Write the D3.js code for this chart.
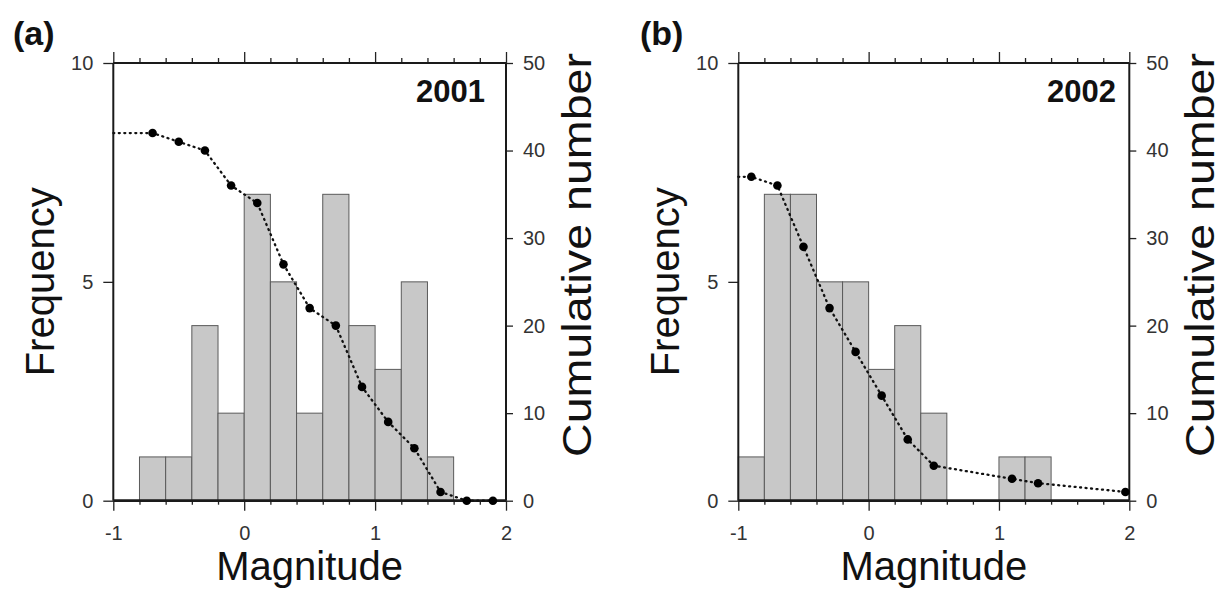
<!DOCTYPE html>
<html>
<head>
<meta charset="utf-8">
<script src="https://cdn.jsdelivr.net/npm/d3@7"></script>
<style>
  html, body { margin: 0; padding: 0; background: #fff; }
  svg { display: block; font-family: "Liberation Sans", Arial, Helvetica, sans-serif; }
</style>
</head>
<body>
<svg id="chart" width="1221" height="589"></svg>
<script>
// ---------------- DATA ----------------
const xTicks = [-1, 0, 1, 2];
const freqTicks = [0, 5, 10];
const cumTicks = [0, 10, 20, 30, 40, 50];
const binWidth = 0.2;

// Panel (a) 2001
const binStartA = [-0.8, -0.6, -0.4, -0.2, 0.0, 0.2, 0.4, 0.6, 0.8, 1.0, 1.2, 1.4];
const freqA     = [1, 1, 4, 2, 7, 5, 2, 7, 4, 3, 5, 1];
const cumXA     = [-0.7, -0.5, -0.3, -0.1, 0.1, 0.3, 0.5, 0.7, 0.9, 1.1, 1.3, 1.5, 1.7, 1.9];
const cumA      = [42, 41, 40, 36, 34, 27, 22, 20, 13, 9, 6, 1, 0, 0];

// Panel (b) 2002
const binStartB = [-1.0, -0.8, -0.6, -0.4, -0.2, 0.0, 0.2, 0.4, 1.0, 1.2];
const freqB     = [1, 7, 7, 5, 5, 3, 4, 2, 1, 1];
const cumXB     = [-0.9, -0.7, -0.5, -0.3, -0.1, 0.1, 0.3, 0.5, 1.1, 1.3, 1.97];
const cumB      = [37, 36, 29, 22, 17, 12, 7, 4, 2.5, 2, 1];

const panelLabels = ["(a)", "(b)"];
const yearLabels = ["2001", "2002"];
const xTitle = "Magnitude";
const yTitle = "Frequency";
const y2Title = "Cumulative number";

// ---------------- LAYOUT ----------------
const svg = d3.select("#chart");
const plotTop = 63, plotBottom = 500.7;
const panels = [
  { left: 113.3, right: 506, bins: binStartA, freq: freqA, cx: cumXA, cy: cumA,
    label: panelLabels[0], labelX: 13, year: yearLabels[0], yearX: 485 },
  { left: 738.3, right: 1129.3, bins: binStartB, freq: freqB, cx: cumXB, cy: cumB,
    label: panelLabels[1], labelX: 640, year: yearLabels[1], yearX: 1116 }
];

function minorTicks() {
  const t = [];
  for (let i = -5; i <= 10; i++) t.push(i * 0.2);
  return t.filter(v => Math.abs(v - Math.round(v)) > 1e-6);
}
const fmt = d => String(d);

panels.forEach(p => {
  const g = svg.append("g");
  const x = d3.scaleLinear().domain([-1, 2]).range([p.left, p.right]);
  const yF = d3.scaleLinear().domain([0, 10]).range([plotBottom, plotTop]);
  const yC = d3.scaleLinear().domain([0, 50]).range([plotBottom, plotTop]);

  // Bars
  g.append("g").selectAll("rect")
    .data(p.bins.map((b, i) => ({ x0: b, x1: b + binWidth, v: p.freq[i] })))
    .join("rect")
    .attr("x", d => x(d.x0))
    .attr("width", d => x(d.x1) - x(d.x0))
    .attr("y", d => yF(d.v))
    .attr("height", d => yF(0) - yF(d.v))
    .attr("fill", "#c8c8c8")
    .attr("stroke", "#5a5a5a")
    .attr("stroke-width", 1);

  const styleAxis = (sel) => {
    sel.select(".domain").remove();
    sel.selectAll("line").attr("stroke", "#222").attr("stroke-width", 1.3);
    sel.selectAll("text").attr("fill", "#333").style("font-size", "20px")
      .style("font-family", '"Liberation Sans", Arial, Helvetica, sans-serif');
  };

  g.append("g").attr("transform", `translate(0,${plotBottom})`)
    .call(d3.axisBottom(x).tickValues(xTicks).tickSize(10).tickPadding(15).tickFormat(fmt))
    .call(styleAxis);
  g.append("g").attr("transform", `translate(0,${plotBottom})`)
    .call(d3.axisBottom(x).tickValues(minorTicks()).tickSize(4).tickFormat(""))
    .call(styleAxis);
  g.append("g").attr("transform", `translate(0,${plotTop})`)
    .call(d3.axisTop(x).tickValues(xTicks).tickSize(11).tickFormat(""))
    .call(styleAxis);
  g.append("g").attr("transform", `translate(0,${plotTop})`)
    .call(d3.axisTop(x).tickValues(minorTicks()).tickSize(5).tickFormat(""))
    .call(styleAxis);
  g.append("g").attr("transform", `translate(${p.left},0)`)
    .call(d3.axisLeft(yF).tickValues(freqTicks).tickSize(10).tickPadding(10).tickFormat(fmt))
    .call(styleAxis);
  g.append("g").attr("transform", `translate(${p.right},0)`)
    .call(d3.axisRight(yC).tickValues(cumTicks).tickSize(7).tickPadding(10).tickFormat(fmt))
    .call(styleAxis);

  // Frame
  g.append("line").attr("x1", p.left).attr("x2", p.right).attr("y1", plotTop).attr("y2", plotTop)
    .attr("stroke", "#1a1a1a").attr("stroke-width", 2);
  g.append("line").attr("x1", p.left).attr("x2", p.left).attr("y1", plotTop).attr("y2", plotBottom)
    .attr("stroke", "#1a1a1a").attr("stroke-width", 2);
  g.append("line").attr("x1", p.right).attr("x2", p.right).attr("y1", plotTop).attr("y2", plotBottom)
    .attr("stroke", "#1a1a1a").attr("stroke-width", 2);
  g.append("line").attr("x1", p.left).attr("x2", p.right).attr("y1", plotBottom).attr("y2", plotBottom)
    .attr("stroke", "#1a1a1a").attr("stroke-width", 2.8);

  // Cumulative line (extended flat to left frame edge)
  const pts = p.cx.map((v, i) => ({ x: v, y: p.cy[i] }));
  const linePts = [{ x: x.domain()[0], y: p.cy[0] }].concat(pts);
  const line = d3.line().x(d => x(d.x)).y(d => yC(d.y));
  g.append("path").datum(linePts)
    .attr("d", line)
    .attr("fill", "none")
    .attr("stroke", "#111")
    .attr("stroke-width", 2.3)
    .attr("stroke-linecap", "round")
    .attr("stroke-dasharray", "1,4.5");
  g.append("g").selectAll("circle").data(pts).join("circle")
    .attr("cx", d => x(d.x)).attr("cy", d => yC(d.y)).attr("r", 4.3)
    .attr("fill", "#000");

  // Texts
  g.append("text").text(p.label)
    .attr("x", p.labelX).attr("y", 45)
    .style("font-size", "34px").style("font-weight", "bold").attr("fill", "#111");
  g.append("text").text(p.year)
    .attr("x", p.yearX).attr("y", 101.5).attr("text-anchor", "end")
    .style("font-size", "31px").style("font-weight", "bold").attr("fill", "#111");
  const cxMid = (p.left + p.right) / 2;
  g.append("text").text(xTitle)
    .attr("x", cxMid).attr("y", 580).attr("text-anchor", "middle")
    .style("font-size", "40px").attr("fill", "#111");
  g.append("text").text(yTitle)
    .attr("transform", `translate(${p.left - 59},${(plotTop + plotBottom) / 2}) rotate(-90)`)
    .attr("text-anchor", "middle")
    .style("font-size", "40px").attr("fill", "#111");
  g.append("text").text(y2Title)
    .attr("transform", `translate(${p.right + 85},255) rotate(-90)`)
    .attr("text-anchor", "middle")
    .attr("textLength", 404).attr("lengthAdjust", "spacingAndGlyphs")
    .style("font-size", "40px").attr("fill", "#111");
});
</script>
</body>
</html>
